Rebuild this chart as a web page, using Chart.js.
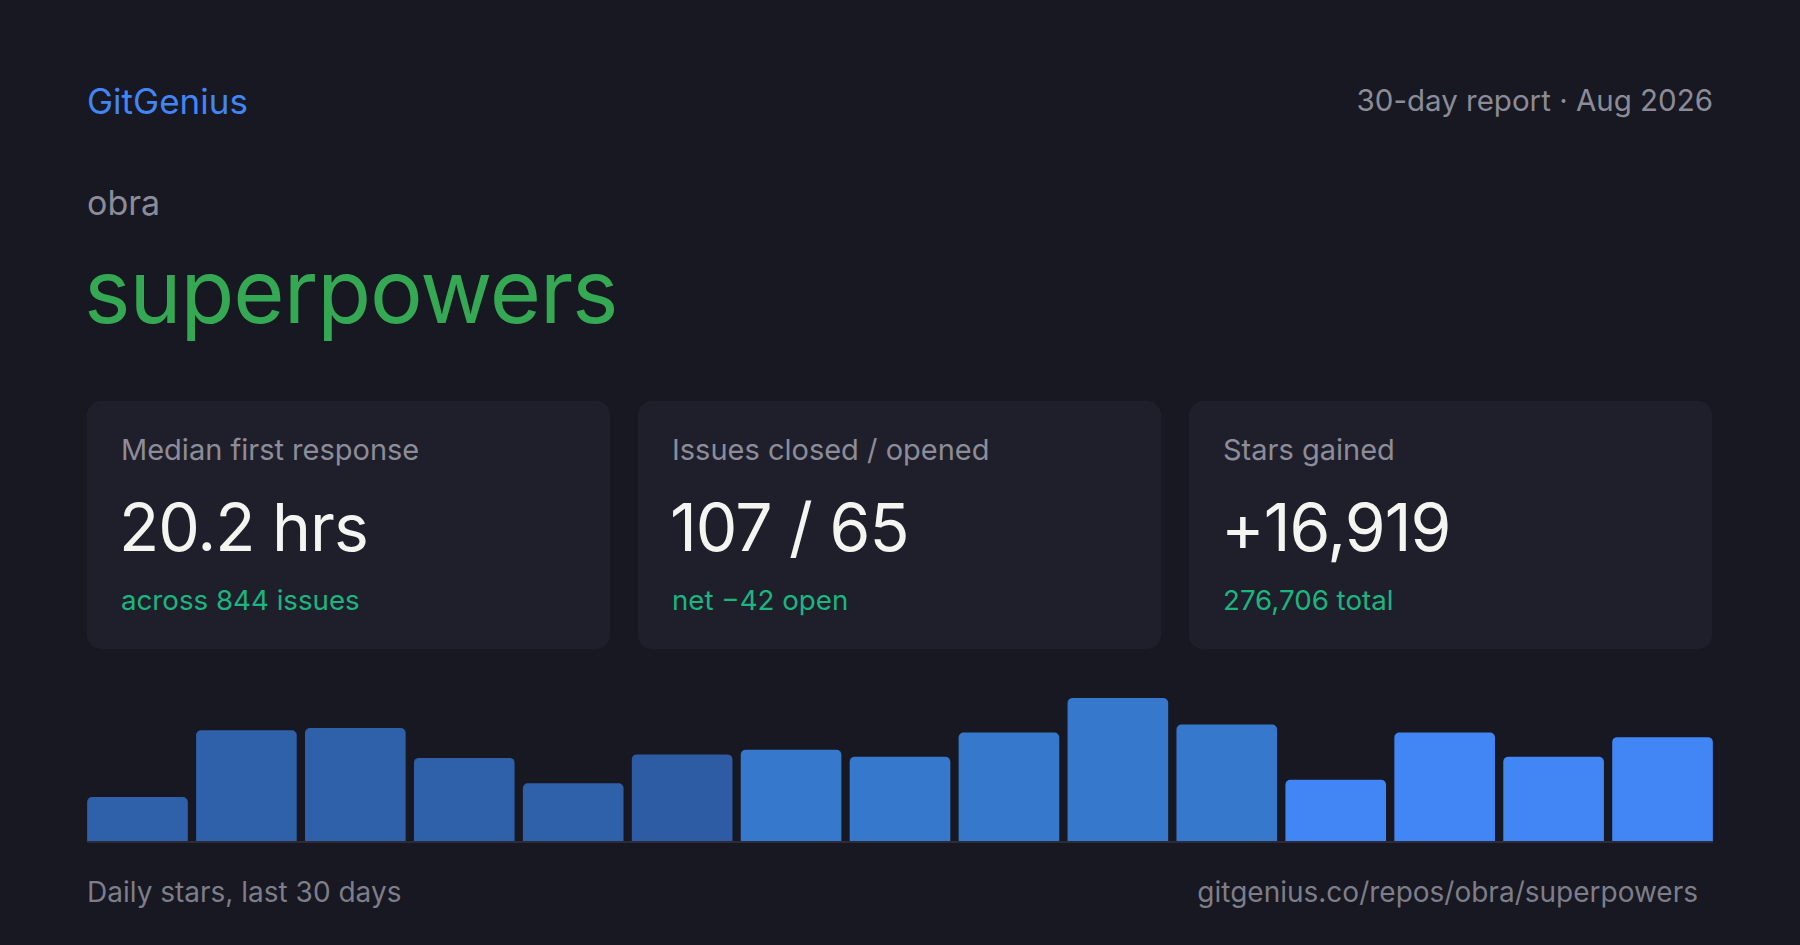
<!DOCTYPE html>
<html lang="en">
<head>
<meta charset="UTF-8">
<title>GitGenius - obra/superpowers</title>
<script src="https://cdn.jsdelivr.net/npm/chart.js"></script>
<style>
  html, body { margin: 0; padding: 0; }
  body {
    width: 1800px; height: 945px; background: #171821; overflow: hidden;
    font-family: Inter, "Noto Sans", sans-serif; position: relative;
  }
  .abs { position: absolute; line-height: 1; white-space: nowrap; }
  .brand { left: 87px; top: 84px; font-size: 35px; color: #4285f4; }
  .report { right: 87px; top: 86px; font-size: 29.5px; color: #8b8c97; }
  .owner { left: 87px; top: 186px; font-size: 34px; color: #8b8c97; }
  .repo { left: 84px; top: 247px; font-size: 88px; color: #34a853; letter-spacing: -1px; }
  .card {
    position: absolute; top: 401px; width: 523px; height: 248px;
    background: #1f1f2b; border-radius: 14px;
  }
  .card .label { left: 34px; top: 34px; font-size: 29px; color: #8c8d98; }
  .card .value { left: 32px; top: 93px; font-size: 66px; color: #f4f4f0; letter-spacing: -1px; }
  .card .sub { left: 34px; top: 186px; font-size: 27.7px; color: #1db57f; }
  .foot { top: 878px; font-size: 28px; color: #7d7e89; }
  #wrap { position: absolute; left: 83px; top: 690px; width: 1634px; height: 152px; }
  #baseline { position: absolute; left: 87px; top: 841px; width: 1626px; height: 2px; background: #2b2c38; }
</style>
</head>
<body>
  <div class="abs brand">GitGenius</div>
  <div class="abs report">30-day report · Aug 2026</div>
  <div class="abs owner">obra</div>
  <div class="abs repo">superpowers</div>

  <div class="card" style="left:87px">
    <div class="abs label">Median first response</div>
    <div class="abs value">20.2 hrs</div>
    <div class="abs sub">across 844 issues</div>
  </div>
  <div class="card" style="left:638px">
    <div class="abs label">Issues closed / opened</div>
    <div class="abs value">107 / 65</div>
    <div class="abs sub">net −42 open</div>
  </div>
  <div class="card" style="left:1189px">
    <div class="abs label">Stars gained</div>
    <div class="abs value">+16,919</div>
    <div class="abs sub">276,706 total</div>
  </div>

  <div id="wrap"><canvas id="starsChart"></canvas></div>
  <div id="baseline"></div>

  <div class="abs foot" style="left:87px">Daily stars, last 30 days</div>
  <div class="abs foot" style="right:102px">gitgenius.co/repos/obra/superpowers</div>

<script>
  // stars per bar (each bar = 2 days)
  const periods = ['1', '2', '3', '4', '5', '6', '7', '8', '9', '10', '11', '12', '13', '14', '15'];
  const stars = [539, 1340, 1367, 1008, 704, 1050, 1105, 1022, 1312, 1726, 1409, 746, 1312, 1022, 1257];
  const barColors = [
    '#2f60aa', '#2f60aa', '#2f60aa', '#2f60aa', '#2f60aa', '#2d5ca4',
    '#3678cc', '#3678cc', '#3678cc', '#3678cc', '#3678cc',
    '#4285f4', '#4285f4', '#4285f4', '#4285f4'
  ];

  const ctx = document.getElementById('starsChart').getContext('2d');
  new Chart(ctx, {
    type: 'bar',
    data: {
      labels: periods,
      datasets: [{
        data: stars,
        backgroundColor: barColors,
        borderRadius: { topLeft: 5, topRight: 5 },
        borderSkipped: 'bottom',
        barPercentage: 0.924,
        categoryPercentage: 1
      }]
    },
    options: {
      responsive: true,
      maintainAspectRatio: false,
      animation: false,
      layout: { padding: { top: 8, left: 0, right: 0, bottom: 0 } },
      plugins: { legend: { display: false }, tooltip: { enabled: false } },
      scales: {
        x: { display: false },
        y: { display: false, min: 0, max: 1726 }
      }
    }
  });
</script>
</body>
</html>
